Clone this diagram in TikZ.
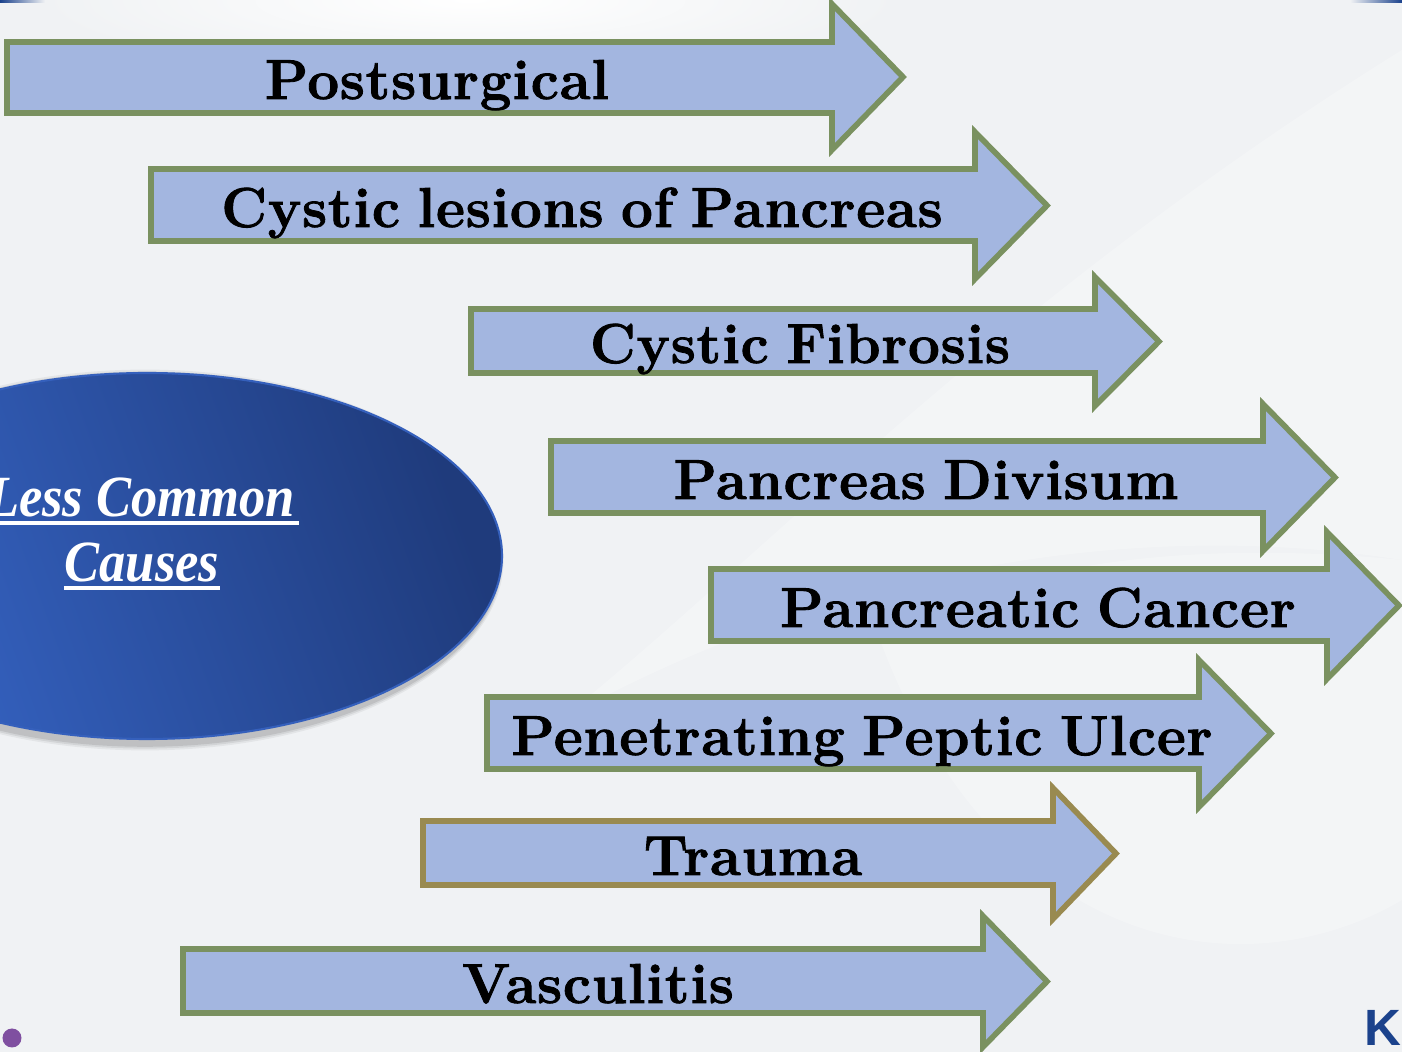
\documentclass[tikz,border=0pt]{standalone}
\usepackage{fontspec}
\usetikzlibrary{shapes.geometric}
\newfontfamily\causefont[FakeStretch=.9]{Liberation Serif}
\newfontfamily\logofont{Liberation Sans}
\newfontfamily\arrowfont[BoldFeatures={FakeBold=1.5},LetterSpace=1.5]{Latin Modern Roman}
\definecolor{pagebg}{HTML}{F0F2F4}
\definecolor{arrowfill}{HTML}{A3B6E0}
\definecolor{greenline}{HTML}{7A9160}
\definecolor{goldline}{HTML}{998A50}
\definecolor{ovalrim}{HTML}{3560BC}
\definecolor{ovalleft}{HTML}{3766C8}
\definecolor{ovalright}{HTML}{1F3B7C}
\definecolor{dotpurple}{HTML}{7F4FA0}
\definecolor{logoblue}{HTML}{1B428C}
\tikzset{
  causearrow/.style={draw=greenline,fill=arrowfill,line width=1.6pt,miter limit=10},
  arrowlabel/.style={font=\fontsize{16}{20}\arrowfont\bfseries\spaceskip 5pt\relax,text=black,inner sep=0pt,anchor=base},
  ovallabel/.style={font=\fontsize{16.6}{20}\causefont\bfseries\itshape,text=white,inner sep=0pt,anchor=base},
  swoosh/.style={fill=white,draw=none,opacity=.25}
}
\begin{document}
\begin{tikzpicture}[x=.01cm,y=-.01cm]
\path[use as bounding box,fill=pagebg] (0,0) rectangle (1402,1052);
% background
\shade[inner color=white,outer color=pagebg,draw=none] (470,0) ellipse (430 and 75);
\fill[swoosh] (560,720) .. controls (760,560) and (1000,300) .. (1402,50) -- (1402,560) .. controls (1150,520) and (850,560) .. (560,720) -- cycle;
\fill[swoosh] (880,640) .. controls (1000,560) and (1200,540) .. (1402,560) -- (1402,900) .. controls (1250,990) and (1000,960) .. (880,640) -- cycle;
\shade[left color=logoblue,right color=pagebg,draw=none] (0,0) rectangle (45,3);
\shade[left color=pagebg,right color=logoblue,draw=none] (1350,0) rectangle (1402,3);
% oval with its shadow
\foreach \i/\op in {9/.05,6/.07,3/.09}{
  \fill[black,opacity=\op] (145,560) ellipse ({355+\i*.4} and {185+\i*.6});
}
\shade[left color=ovalleft,right color=ovalright,shading angle=110,draw=ovalrim,line width=.6pt] (147,556) ellipse (355 and 183);
\node[ovallabel] (lesstext) at (141,517) {Less Common};
\node[ovallabel] (causestext) at (142,582) {Causes};
\draw[white,line width=1.4pt] ([yshift=-1.7pt]lesstext.base west) -- ([xshift=1pt,yshift=-1.7pt]lesstext.base east);
\draw[white,line width=1.4pt] ([yshift=-1.7pt]causestext.base west) -- ([yshift=-1.7pt]causestext.base east);
% left/neck/tip, shaft top/bottom, head top/bottom, colour, label
\foreach \l/\n/\t/\a/\b/\c/\d/\col/\tx/\txy/\lab in {
  7/832/903/42/113/4/150/greenline/437/99/Postsurgical,
  151/975/1047/169/241/132/279/greenline/582/227/Cystic lesions of Pancreas,
  471/1095/1159/309/373/277/406/greenline/800/363/Cystic Fibrosis,
  551/1263/1335/441/513/404/551/greenline/926/499/Pancreas Divisum,
  711/1327/1399/569/641/532/679/greenline/1038/627/Pancreatic Cancer,
  487/1199/1271/697/769/660/807/greenline/862/755/Penetrating Peptic Ulcer,
  423/1053/1116/821/885/788/919/goldline/753/875/Trauma,
  183/983/1047/949/1013/916/1047/greenline/598/1003/Vasculitis}{
  \draw[causearrow,draw=\col] (\l,\a) -- (\n,\a) -- (\n,\c) -- (\t,{(\c+\d)/2}) -- (\n,\d) -- (\n,\b) -- (\l,\b) -- cycle;
  \node[arrowlabel] at (\tx,\txy) {\lab};
}
% corner marks
\fill[dotpurple] (12,1038) circle (9.5);
\node[font=\fontsize{14.5}{16}\logofont\bfseries,text=logoblue,inner sep=0pt,anchor=base west] (logo) at (1364,1046) {K};
\end{tikzpicture}
\end{document}
